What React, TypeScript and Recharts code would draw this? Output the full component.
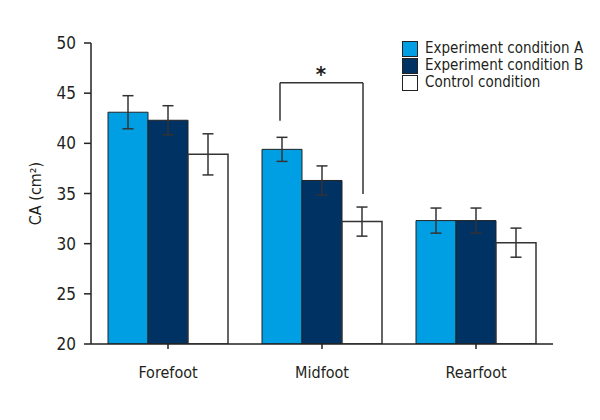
import React from 'react';
import {
  BarChart, Bar, XAxis, YAxis, ErrorBar, ReferenceLine, ReferenceDot, Legend,
} from 'recharts';

const categories = ['Forefoot', 'Midfoot', 'Rearfoot'];
const condA = [43.1, 39.4, 32.3];
const condB = [42.3, 36.3, 32.3];
const control = [38.9, 32.2, 30.1];
const errA = [1.65, 1.2, 1.25];
const errB = [1.45, 1.45, 1.25];
const errC = [2.05, 1.45, 1.45];
const yTicks = [20, 25, 30, 35, 40, 45, 50];
const seriesNames = ['Experiment condition A', 'Experiment condition B', 'Control condition'];
const seriesColors = ['#009fe3', '#003263', '#ffffff'];

// significance bracket (Midfoot: condition A vs control), y in data units
const bracketCategory = 'Midfoot';
const bracketTopY = 46.05;
const bracketLeftBottomY = 42.26;
const bracketRightBottomY = 34.96;

const BAR_SIZE = 40;

const data = categories.map((c, i) => ({
  name: c,
  a: condA[i],
  b: condB[i],
  c: control[i],
  ea: errA[i],
  eb: errB[i],
  ec: errC[i],
}));

const FONT = "'Liberation Sans Narrow', 'DejaVu Sans Condensed', 'Roboto', sans-serif";
const INK = '#231f20';
const LINE = '#333';

const LegendContent = () => (
  <div style={{ fontFamily: FONT, fontSize: 15, color: INK, lineHeight: '17px' }}>
    {seriesNames.map((n, i) => (
      <div key={n} style={{ display: 'flex', alignItems: 'center', height: 17 }}>
        <span
          style={{
            display: 'inline-block', width: 14, height: 14, background: seriesColors[i],
            border: '1px solid #222', marginRight: 7, boxSizing: 'content-box',
          }}
        />
        <span>{n}</span>
      </div>
    ))}
  </div>
);

const shiftedLine = (dx1: number, dx2: number) => (p: any) => (
  <line
    x1={p.x1 + dx1}
    y1={p.y1}
    x2={p.x2 + dx2}
    y2={p.y2}
    stroke={LINE}
    strokeWidth={1.5}
  />
);

export default function App() {
  return (
    <div style={{ position: 'absolute', left: 0, top: 0, width: 600, height: 420, background: '#fff' }}>
      <BarChart
        width={600}
        height={420}
        data={data}
        margin={{ top: 43, right: 47, bottom: 36, left: 0 }}
        barGap={0}
        barSize={BAR_SIZE}
      >
        <XAxis
          dataKey="name"
          tickSize={5}
          tickMargin={18}
          axisLine={{ stroke: '#222', strokeWidth: 1.5 }}
          tickLine={{ stroke: '#222', strokeWidth: 1.5 }}
          tick={{ fill: INK, fontSize: 16, fontFamily: FONT }}
          height={40}
        />
        <YAxis
          domain={[20, 50]}
          ticks={yTicks}
          width={91}
          tickSize={7}
          tickMargin={8}
          interval={0}
          allowDataOverflow
          axisLine={{ stroke: '#222', strokeWidth: 1.5 }}
          tickLine={{ stroke: '#222', strokeWidth: 1.5 }}
          tick={{ fill: INK, fontSize: 17, fontFamily: FONT }}
          label={{
            content: (props: any) => {
              const vb = props.viewBox || { x: 0, y: 43, width: 91, height: 301 };
              const cx = vb.x + 35;
              const cy = vb.y + vb.height / 2;
              return (
                <text
                  x={cx}
                  y={cy}
                  transform={`rotate(-90, ${cx}, ${cy})`}
                  textAnchor="middle"
                  dominantBaseline="central"
                  fill={INK}
                  fontSize={16}
                  fontFamily={FONT}
                >
                  CA (cm²)
                </text>
              );
            },
          }}
        />
        <Legend
          layout="horizontal"
          verticalAlign="middle"
          align="center"
          content={<LegendContent />}
          wrapperStyle={{ left: 402, top: 40, width: 'auto' }}
        />
        <Bar dataKey="a" name={seriesNames[0]} fill={seriesColors[0]} stroke="#222" strokeWidth={1} isAnimationActive={false}>
          <ErrorBar dataKey="ea" width={5.5} stroke={LINE} strokeWidth={1.5} />
        </Bar>
        <Bar dataKey="b" name={seriesNames[1]} fill={seriesColors[1]} stroke="#222" strokeWidth={1} isAnimationActive={false}>
          <ErrorBar dataKey="eb" width={5.5} stroke={LINE} strokeWidth={1.5} />
        </Bar>
        <Bar dataKey="c" name={seriesNames[2]} fill={seriesColors[2]} stroke={LINE} strokeWidth={1.5} isAnimationActive={false}>
          <ErrorBar dataKey="ec" width={5.5} stroke={LINE} strokeWidth={1.5} />
        </Bar>
        <ReferenceLine
          segment={[{ x: bracketCategory, y: bracketLeftBottomY }, { x: bracketCategory, y: bracketTopY }]}
          shape={shiftedLine(-BAR_SIZE - 2, -BAR_SIZE - 2)}
        />
        <ReferenceLine
          segment={[{ x: bracketCategory, y: bracketTopY }, { x: bracketCategory, y: bracketTopY }]}
          shape={shiftedLine(-BAR_SIZE - 2, BAR_SIZE + 1)}
        />
        <ReferenceLine
          segment={[{ x: bracketCategory, y: bracketTopY }, { x: bracketCategory, y: bracketRightBottomY }]}
          shape={shiftedLine(BAR_SIZE + 1, BAR_SIZE + 1)}
        />
        <ReferenceDot
          x={bracketCategory}
          y={bracketTopY}
          r={0}
          shape={(p: any) => (
            <text x={p.cx - 1} y={p.cy - 1} textAnchor="middle" fill={INK} fontSize={22} fontWeight="bold" fontFamily={FONT}>
              *
            </text>
          )}
        />
      </BarChart>
    </div>
  );
}
